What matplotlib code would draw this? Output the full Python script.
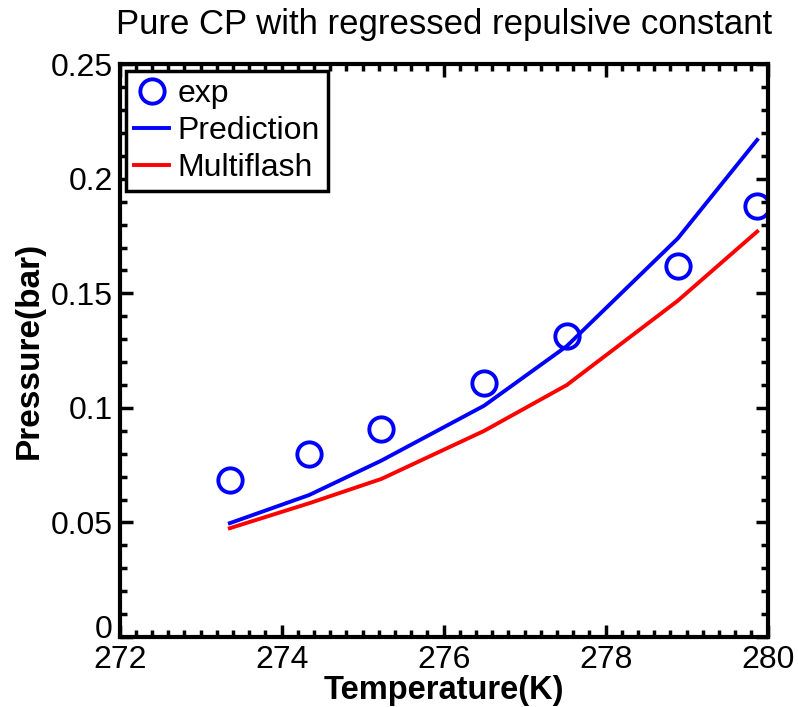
import matplotlib
matplotlib.use("Agg")
import matplotlib.pyplot as plt
import matplotlib.transforms as mtransforms
from matplotlib.ticker import MultipleLocator

plt.rcParams['font.family'] = ['Liberation Sans', 'DejaVu Sans']

# experimental points
t_exp = [273.36, 274.34, 275.23, 276.50, 277.52, 278.89, 279.87]
p_exp = [0.0684, 0.0801, 0.0910, 0.1110, 0.1315, 0.1620, 0.1880]

# model curves evaluated at the same temperatures
p_pred = [0.0497, 0.0620, 0.0770, 0.1010, 0.1270, 0.1740, 0.2170]
p_mflash = [0.0475, 0.0584, 0.0690, 0.0900, 0.1100, 0.1468, 0.1770]

fig = plt.figure(figsize=(7.98, 7.07), dpi=100)
ax = fig.add_axes([0.150, 0.099, 0.812, 0.810])

ax.plot(t_exp, p_exp, 'o', mfc='none', mec='#0000ff', mew=2.8, ms=17.5, label='exp')
ax.plot(t_exp, p_pred, '-', color='#0000ff', lw=2.8, label='Prediction')
ax.plot(t_exp, p_mflash, '-', color='#ff0000', lw=2.8, label='Multiflash')

ax.set_xlim(272, 280)
ax.set_ylim(0, 0.25)
ax.xaxis.set_major_locator(MultipleLocator(2))
ax.xaxis.set_minor_locator(MultipleLocator(0.2))
ax.yaxis.set_minor_locator(MultipleLocator(0.01))
ax.set_yticks([0, 0.05, 0.1, 0.15, 0.2, 0.25])
ax.set_yticklabels(['0', '0.05', '0.1', '0.15', '0.2', '0.25'])

ax.tick_params(which='both', direction='in', top=True, right=True,
               width=2.5, labelsize=23)
ax.tick_params(axis='y', pad=5)
ax.tick_params(axis='x', pad=5.5)
ax.tick_params(which='major', length=9)
ax.tick_params(which='minor', length=5)
for s in ax.spines.values():
    s.set_linewidth(3)

# nudge the "0" label up so it clears "272"
zero_lab = ax.get_yticklabels()[0]
zero_lab.set_transform(zero_lab.get_transform() +
                       mtransforms.ScaledTranslation(0, 7.5 / 72, fig.dpi_scale_trans))

ax.set_xlabel('Temperature(K)', fontsize=23.5, fontweight='bold', labelpad=0)
ax.set_ylabel('Pressure(bar)', fontsize=24, fontweight='bold', labelpad=4)
ax.set_title('Pure CP with regressed repulsive constant', fontsize=25, pad=22)

leg = ax.legend(loc='upper left', fontsize=23, handlelength=1.1, handletextpad=0.25,
                borderpad=0.25, labelspacing=0.22, fancybox=False, framealpha=1,
                borderaxespad=0.2)
leg.get_frame().set_edgecolor('black')
leg.get_frame().set_linewidth(2.5)

fig.savefig('out.png', dpi=100)
